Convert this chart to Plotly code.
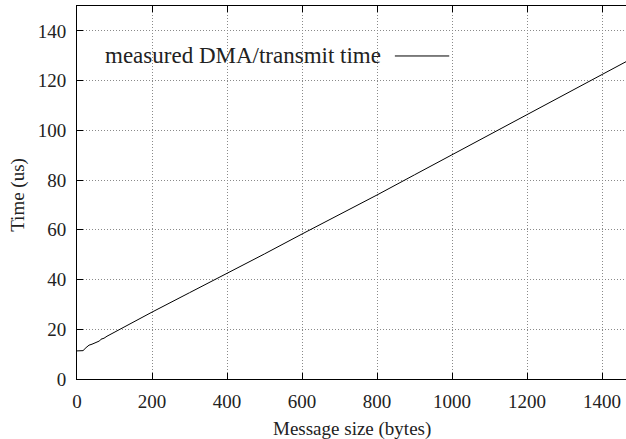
import plotly.graph_objects as go

# Data
sizes = [0, 8, 16, 24, 32, 40, 48, 56, 60, 64, 72, 80, 96, 112, 128,
         200, 300, 400, 500, 600, 700, 800, 900, 1000, 1100, 1200, 1300, 1400, 1464]
times = [11.3, 11.3, 11.4, 12.6, 13.6, 14.0, 14.5, 15.0, 15.3, 16.0, 16.4, 17.2, 18.5, 20.0, 21.0,
         26.9, 34.7, 42.4, 50.3, 58.3, 66.0, 74.0, 82.1, 90.2, 98.4, 106.4, 114.6, 122.6, 127.6]
series_name = "measured DMA/transmit time"
x_title = "Message size (bytes)"
y_title = "Time (us)"
x_ticks = [0, 200, 400, 600, 800, 1000, 1200, 1400]
y_ticks = [0, 20, 40, 60, 80, 100, 120, 140]

FONT = "Liberation Serif"
TXT = "#222222"

fig = go.Figure()
fig.add_trace(go.Scatter(x=sizes, y=times, mode="lines", name=series_name,
                         line=dict(color="black", width=1), showlegend=False))

axis_common = dict(
    showline=True, linecolor="black", linewidth=1,
    ticks="inside", ticklen=6, tickcolor="black", tickwidth=1,
    showgrid=True, gridcolor="#8a8a8a", griddash="1px,2px", gridwidth=1,
    zeroline=False, automargin=False,
    tickfont=dict(family=FONT, size=19, color=TXT),
)

fig.update_xaxes(range=[0, 1464], tickvals=x_ticks, mirror="ticks",
                 ticklabelstandoff=5, **axis_common)
fig.update_yaxes(range=[0, 150], tickvals=y_ticks, mirror=False,
                 ticklabelstandoff=6, **axis_common)

# axis titles
fig.add_annotation(xref="paper", yref="paper", x=0.5, y=-0.134, xanchor="center", yanchor="middle",
                   text=x_title, showarrow=False, font=dict(family=FONT, size=19, color=TXT))
fig.add_annotation(xref="paper", yref="paper", x=-0.108, y=0.493, xanchor="center", yanchor="middle",
                   text=y_title, textangle=-90, showarrow=False, font=dict(family=FONT, size=19, color=TXT))

# key (gnuplot style: label then line sample)
fig.add_annotation(xref="paper", yref="paper", x=0.557, y=0.866, xanchor="right", yanchor="middle",
                   text=series_name, showarrow=False,
                   font=dict(family=FONT, size=23, color=TXT))
fig.add_shape(type="line", xref="paper", yref="paper", x0=0.579, x1=0.678, y0=0.866, y1=0.866,
              line=dict(color="black", width=1))

fig.update_layout(width=626, height=439, margin=dict(l=77, r=0, t=6, b=60),
                  plot_bgcolor="white", paper_bgcolor="white", showlegend=False)

fig.write_html("out.html", config={"displayModeBar": False},
               post_script="document.body.style.margin='0';document.body.style.overflow='hidden';")
